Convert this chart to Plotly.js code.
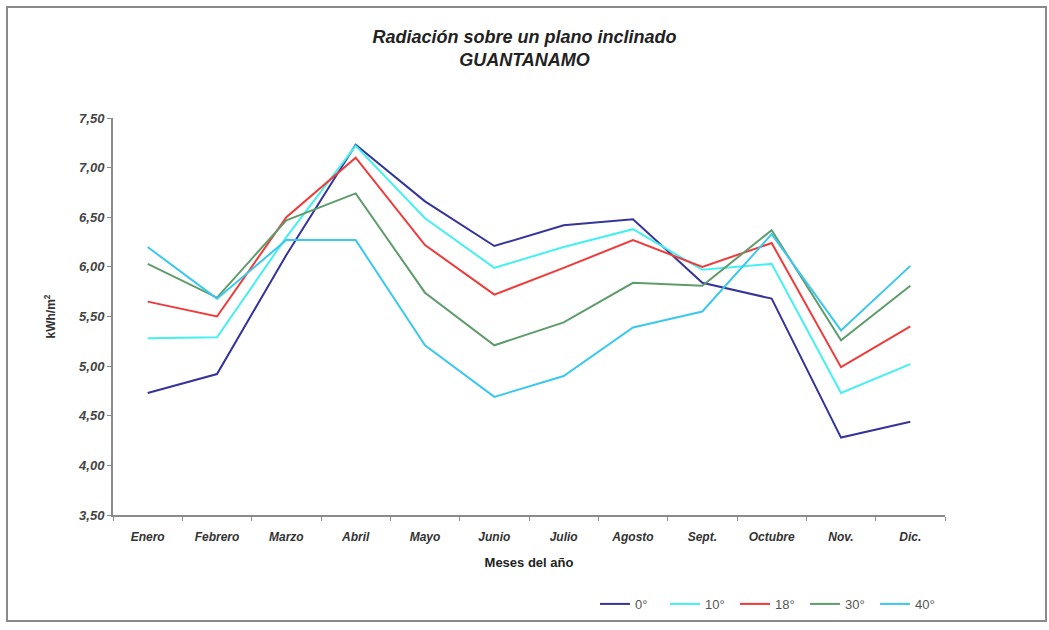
<!DOCTYPE html>
<html>
<head>
<meta charset="utf-8">
<script src="https://cdn.plot.ly/plotly-3.0.1.min.js"></script>
<style>
  html, body { margin: 0; padding: 0; background: #fff; }
  #wrap { position: relative; width: 1049px; height: 630px; }
  #chart { position: absolute; left: 0; top: 0; width: 1049px; height: 630px; }
  #frame { position: absolute; left: 6px; top: 6px; width: 1037px; height: 612px;
           border: 2px solid #8a8a8a; pointer-events: none; }
</style>
</head>
<body>
<div id="wrap">
  <div id="chart"></div>
  <div id="frame"></div>
</div>
<script>
const months = ['Enero','Febrero','Marzo','Abril','Mayo','Junio','Julio','Agosto','Sept.','Octubre','Nov.','Dic.'];
const seriesNames = ['0°','10°','18°','30°','40°'];
const v0  = [4.73, 4.92, 6.12, 7.23, 6.66, 6.21, 6.42, 6.48, 5.84, 5.68, 4.28, 4.44];
const v10 = [5.28, 5.29, 6.30, 7.22, 6.49, 5.99, 6.20, 6.38, 5.97, 6.03, 4.73, 5.02];
const v18 = [5.65, 5.50, 6.50, 7.10, 6.22, 5.72, 5.99, 6.27, 6.00, 6.24, 4.99, 5.40];
const v30 = [6.03, 5.69, 6.47, 6.74, 5.74, 5.21, 5.44, 5.84, 5.81, 6.37, 5.26, 5.81];
const v40 = [6.20, 5.68, 6.27, 6.27, 5.21, 4.69, 4.90, 5.39, 5.55, 6.33, 5.36, 6.01];
const seriesValues = [v0, v10, v18, v30, v40];
const colors = ['#34349a', '#44f0f0', '#f03a3a', '#5f9c6c', '#3cc8ee'];

const traces = seriesValues.map((vals, i) => ({
  x: months, y: vals, type: 'scatter', mode: 'lines', name: seriesNames[i],
  line: { color: colors[i], width: 2 }
}));

const layout = {
  width: 1049, height: 630,
  margin: { l: 113, r: 104, t: 118, b: 114 },
  paper_bgcolor: '#ffffff', plot_bgcolor: '#ffffff',
  separators: ', ',
  font: { family: 'Liberation Sans, Arial, sans-serif', color: '#333' },
  title: {
    text: '<b><i>Radiación sobre un plano inclinado</i></b><br><b><i>GUANTANAMO</i></b>',
    font: { size: 18, color: '#222' },
    x: 0.5, xanchor: 'center', xref: 'container',
    y: 0.932, yanchor: 'top', yref: 'container'
  },
  xaxis: {
    type: 'category',
    showgrid: false, zeroline: false,
    showline: true, linecolor: '#8a8a8a', linewidth: 2,
    ticks: 'outside', tickson: 'boundaries', ticklen: 4, tickcolor: '#8a8a8a',
    ticklabelstandoff: 10,
    tickfont: { size: 12, color: '#333', weight: 'bold', style: 'italic' },
    title: { text: '<b>Meses del año</b>', font: { size: 13, color: '#222' }, standoff: 14 },
    range: [-0.5, 11.5]
  },
  yaxis: {
    range: [3.5, 7.5], dtick: 0.5, tickformat: '.2f',
    showgrid: false, zeroline: false,
    showline: true, linecolor: '#8a8a8a', linewidth: 2,
    ticks: 'outside', ticklen: 4, tickcolor: '#8a8a8a',
    tickfont: { size: 13, color: '#444', weight: 'bold', style: 'italic' },
    title: { text: '<b>kWh/m<sup>2</sup></b>', font: { size: 12, color: '#333' }, standoff: 20 }
  },
  showlegend: true,
  legend: {
    orientation: 'h', x: 1.0, xanchor: 'right', y: -0.221, yanchor: 'middle',
    font: { size: 13, color: '#555' },
    entrywidth: 25, entrywidthmode: 'pixels',
    bgcolor: 'rgba(0,0,0,0)', traceorder: 'normal'
  }
};

Plotly.newPlot('chart', traces, layout, { displayModeBar: false, staticPlot: true });
</script>
</body>
</html>
